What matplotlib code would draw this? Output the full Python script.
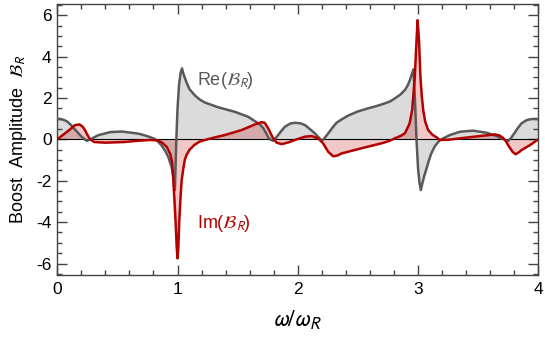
import numpy as np
import matplotlib
matplotlib.use('Agg')
import matplotlib.pyplot as plt
from matplotlib.ticker import MultipleLocator

# Re(B_R)
re_x = [0.0, 0.04, 0.078, 0.11, 0.14, 0.17, 0.2, 0.225, 0.245, 0.265, 0.285, 0.34, 0.44, 0.535,
        0.646, 0.687, 0.757, 0.81, 0.826, 0.868, 0.9, 0.923, 0.95, 0.965, 0.978, 0.984, 0.99,
        1.0, 1.012, 1.025, 1.037, 1.05, 1.075, 1.1, 1.145, 1.186, 1.228, 1.338, 1.477, 1.588,
        1.643, 1.68, 1.712, 1.735, 1.754, 1.775, 1.796, 1.815, 1.837, 1.865, 1.893, 1.94, 1.976,
        2.02, 2.06, 2.1, 2.142, 2.17, 2.2, 2.225, 2.253, 2.29, 2.322, 2.36, 2.39, 2.419, 2.5,
        2.585, 2.65, 2.724, 2.77, 2.807, 2.85, 2.89, 2.915, 2.932, 2.948, 2.962, 2.975, 2.987,
        3.0, 3.012, 3.023, 3.035, 3.05, 3.07, 3.09, 3.11, 3.14, 3.18, 3.22, 3.265, 3.35, 3.458,
        3.57, 3.653, 3.72, 3.75, 3.775, 3.8, 3.83, 3.86, 3.9, 3.93, 3.965, 4.0]
re_y = [1.0, 0.97, 0.88, 0.72, 0.52, 0.33, 0.14, 0.02, -0.07, -0.03, 0.03, 0.2, 0.35, 0.38,
        0.3, 0.26, 0.14, 0.02, -0.03, -0.3, -0.58, -0.85, -1.32, -1.8, -2.45, -1.2, 0.0,
        1.5, 2.6, 3.2, 3.43, 3.15, 2.75, 2.42, 2.12, 1.92, 1.78, 1.55, 1.33, 1.09,
        0.88, 0.75, 0.55, 0.32, 0.1, -0.02, -0.07, 0.05, 0.21, 0.42, 0.61, 0.77, 0.8,
        0.78, 0.69, 0.5, 0.29, 0.12, -0.07, 0.08, 0.29, 0.58, 0.8, 0.95, 1.05, 1.15, 1.35,
        1.5, 1.6, 1.74, 1.84, 1.98, 2.15, 2.38, 2.62, 2.86, 3.15, 3.38, 1.8, 0.0,
        -1.4, -2.1, -2.45, -2.15, -1.8, -1.42, -1.02, -0.68, -0.33, -0.04, 0.08, 0.21, 0.37, 0.42,
        0.32, 0.16, -0.02, -0.07, 0.08, 0.29, 0.55, 0.77, 0.92, 0.97, 0.99, 0.98]

# Im(B_R)
im_x = [0.0, 0.03, 0.064, 0.11, 0.147, 0.185, 0.21, 0.23, 0.25, 0.27, 0.29, 0.31, 0.4, 0.55,
        0.67, 0.77, 0.83, 0.87, 0.91, 0.94, 0.955, 0.965, 0.975, 0.984, 0.993, 1.0, 1.007,
        1.014, 1.025, 1.034, 1.047, 1.06, 1.075, 1.1, 1.14, 1.18, 1.228, 1.3, 1.394, 1.533,
        1.643, 1.70, 1.725, 1.754, 1.788, 1.824, 1.865, 1.92, 1.99, 2.06, 2.115, 2.17, 2.21,
        2.253, 2.294, 2.33, 2.364, 2.45, 2.53, 2.62, 2.697, 2.76, 2.807, 2.86, 2.89, 2.904,
        2.93, 2.951, 2.962, 2.973, 2.985, 2.996, 3.008, 3.02, 3.031, 3.043, 3.06, 3.084, 3.12,
        3.154, 3.18, 3.25, 3.35, 3.514, 3.64, 3.68, 3.707, 3.73, 3.749, 3.786, 3.81, 3.84,
        3.86, 3.93, 4.0]
im_y = [0.0, 0.14, 0.29, 0.5, 0.69, 0.72, 0.62, 0.45, 0.22, 0.03, -0.07, -0.13, -0.16, -0.13,
        -0.07, -0.03, -0.05, -0.15, -0.36, -0.72, -1.1, -2.0, -3.0, -4.0, -5.2, -5.75, -5.2,
        -4.0, -2.8, -2.0, -1.45, -1.0, -0.75, -0.5, -0.27, -0.12, -0.03, 0.08, 0.21, 0.45,
        0.72, 0.83, 0.8, 0.53, 0.13, -0.16, -0.23, -0.15, 0.0, 0.13, 0.16, 0.05, -0.19,
        -0.6, -0.82, -0.78, -0.68, -0.55, -0.43, -0.3, -0.19, -0.08, 0.05, 0.18, 0.29, 0.45,
        0.77, 1.42, 2.2, 3.02, 4.5, 5.76, 4.8, 3.02, 2.1, 1.42, 0.85, 0.45, 0.22,
        0.1, -0.03, -0.02, 0.05, 0.16, 0.24, 0.18, 0.07, -0.08, -0.28, -0.6, -0.72, -0.62,
        -0.52, -0.28, 0.0]

x_ticks = [0, 1, 2, 3, 4]
y_ticks = [-6, -4, -2, 0, 2, 4, 6]

plt.rcParams['font.family'] = ['Liberation Sans', 'DejaVu Sans']
plt.rcParams['mathtext.fontset'] = 'stixsans'
plt.rcParams['axes.unicode_minus'] = False

fig = plt.figure(figsize=(5.45, 3.37), dpi=100)
ax = fig.add_axes([0.1051, 0.1849, 0.8826, 0.8031])

ax.fill_between(re_x, re_y, 0, color='#808080', alpha=0.28, lw=0)
ax.fill_between(im_x, im_y, 0, color='#c00000', alpha=0.22, lw=0)
ax.axhline(0, color='black', lw=0.8, zorder=2)
ax.plot(re_x, re_y, color='#595959', lw=1.8, solid_joinstyle='round', zorder=3)
ax.plot(im_x, im_y, color='#b30000', lw=1.8, solid_joinstyle='round', zorder=4)

ax.set_xlim(0, 4)
ax.set_ylim(-6.54, 6.54)
ax.set_xticks(x_ticks)
ax.set_yticks(y_ticks)
ax.xaxis.set_minor_locator(MultipleLocator(0.2))
ax.yaxis.set_minor_locator(MultipleLocator(0.5))
ax.tick_params(which='both', direction='in', top=True, right=True, color='#444444',
               width=1.0, labelsize=12.5, labelcolor='black')
ax.tick_params(which='major', length=7)
ax.tick_params(which='minor', length=3.5)
ax.tick_params(axis='x', pad=5)
ax.tick_params(axis='y', pad=4)
for s in ax.spines.values():
    s.set_color('#444444')
    s.set_linewidth(1.0)

ax.set_xlabel(r'$\omega/\omega_R$', fontsize=17, labelpad=9)
ax.set_ylabel(r'Boost  Amplitude  $\mathcal{B}_R$', fontsize=13, labelpad=5)

ax.text(1.16, 2.86, r'Re($\mathcal{B}_R$)', color='#595959', fontsize=13, va='center', ha='left')
ax.text(1.16, -4.05, r'Im($\mathcal{B}_R$)', color='#b30000', fontsize=13, va='center', ha='left')

fig.savefig('out.png', dpi=100)
